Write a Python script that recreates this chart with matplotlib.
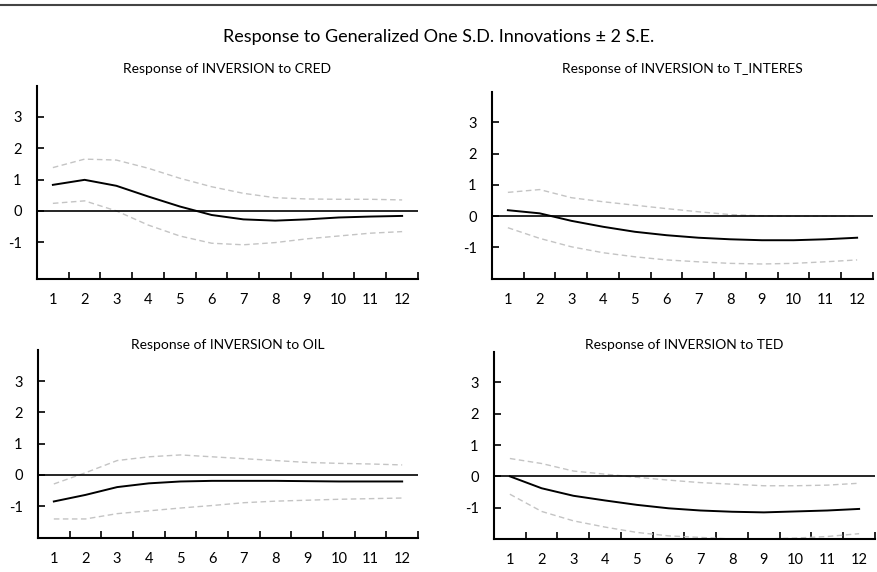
import numpy as np
import matplotlib.pyplot as plt
from matplotlib.lines import Line2D
from matplotlib.ticker import FixedLocator

plt.rcParams['font.family'] = ['Lato', 'DejaVu Sans']
plt.rcParams['axes.unicode_minus'] = False

# --- data ---
periods = np.arange(1, 13)

cred_resp = [0.83, 0.99, 0.80, 0.46, 0.14, -0.13, -0.27, -0.31, -0.27, -0.21, -0.18, -0.16]
cred_up = [1.38, 1.65, 1.62, 1.36, 1.04, 0.77, 0.56, 0.42, 0.38, 0.37, 0.37, 0.35]
cred_lo = [0.24, 0.32, 0.00, -0.45, -0.80, -1.03, -1.08, -1.01, -0.89, -0.80, -0.71, -0.66]

tint_resp = [0.19, 0.09, -0.15, -0.34, -0.50, -0.61, -0.69, -0.74, -0.77, -0.77, -0.74, -0.69]
tint_up = [0.76, 0.85, 0.59, 0.46, 0.35, 0.24, 0.14, 0.05, 0.01, 0.00, 0.00, 0.00]
tint_lo = [-0.37, -0.71, -0.98, -1.17, -1.30, -1.40, -1.46, -1.51, -1.53, -1.51, -1.46, -1.40]

oil_resp = [-0.85, -0.64, -0.39, -0.27, -0.21, -0.19, -0.19, -0.19, -0.20, -0.21, -0.21, -0.21]
oil_up = [-0.29, 0.07, 0.46, 0.58, 0.64, 0.58, 0.52, 0.46, 0.40, 0.37, 0.35, 0.32]
oil_lo = [-1.41, -1.41, -1.24, -1.15, -1.06, -0.98, -0.89, -0.84, -0.81, -0.78, -0.76, -0.74]

ted_resp = [0.00, -0.38, -0.62, -0.77, -0.91, -1.02, -1.09, -1.13, -1.15, -1.12, -1.09, -1.04]
ted_up = [0.57, 0.41, 0.17, 0.07, -0.03, -0.12, -0.20, -0.25, -0.30, -0.30, -0.28, -0.22]
ted_lo = [-0.57, -1.12, -1.42, -1.62, -1.79, -1.90, -1.95, -2.00, -2.00, -1.97, -1.92, -1.83]

titles = ["Response of INVERSION to CRED", "Response of INVERSION to T_INTERES",
          "Response of INVERSION to OIL", "Response of INVERSION to TED"]
yticks = [-1, 0, 1, 2, 3]

W, H = 878, 572
fig = plt.figure(figsize=(W / 100, H / 100), dpi=100)

# axes boxes in pixels: left, right, top, bottom
boxes = [(37, 418, 86, 279), (492, 873, 92, 279),
         (38, 418, 350, 538), (494, 875, 352, 539)]
ylims = [(-2.17, 3.98), (-2.01, 3.97), (-2.02, 4.0), (-2.0, 3.97)]
title_y = [73, 73, 349, 349]

series = [(cred_resp, cred_up, cred_lo), (tint_resp, tint_up, tint_lo),
          (oil_resp, oil_up, oil_lo), (ted_resp, ted_up, ted_lo)]

for i, (resp, up, lo) in enumerate(series):
    l, r, t, b = boxes[i]
    ax = fig.add_axes([l / W, 1 - b / H, (r - l) / W, (b - t) / H])
    ax.plot(periods, up, color='#c4c4c4', lw=1.0, ls=(0, (4, 2.5)))
    ax.plot(periods, lo, color='#c4c4c4', lw=1.0, ls=(0, (4, 2.5)))
    ax.axhline(0, color='black', lw=1.2)
    ax.plot(periods, resp, color='black', lw=1.4)

    ax.set_xlim(0.5, 12.5)
    ax.set_ylim(*ylims[i])
    ax.set_xticks(periods)
    ax.xaxis.set_minor_locator(FixedLocator(np.arange(1.5, 13, 1)))
    ax.tick_params(axis='x', which='major', length=0, pad=10, labelsize=10.5)
    ax.tick_params(axis='x', which='minor', direction='in', length=5, width=1.2)
    ax.set_yticks(yticks)
    ax.tick_params(axis='y', direction='in', length=5, width=1.2, pad=11, labelsize=10.5)

    for side in ['top', 'right']:
        ax.spines[side].set_visible(False)
    for side in ['left', 'bottom']:
        ax.spines[side].set_linewidth(1.5)

    fig.text((l + r) / 2 / W, 1 - title_y[i] / H, titles[i], ha='center',
             va='baseline', fontsize=10)

fig.text(0.5, 1 - 37 / H, "Response to Generalized One S.D. Innovations ± 2 S.E.",
         ha='center', va='center', fontsize=13)
fig.add_artist(Line2D([0, 1], [1 - 5 / H, 1 - 5 / H], color='#444444', lw=1.5))

fig.savefig('out.png', dpi=100)
